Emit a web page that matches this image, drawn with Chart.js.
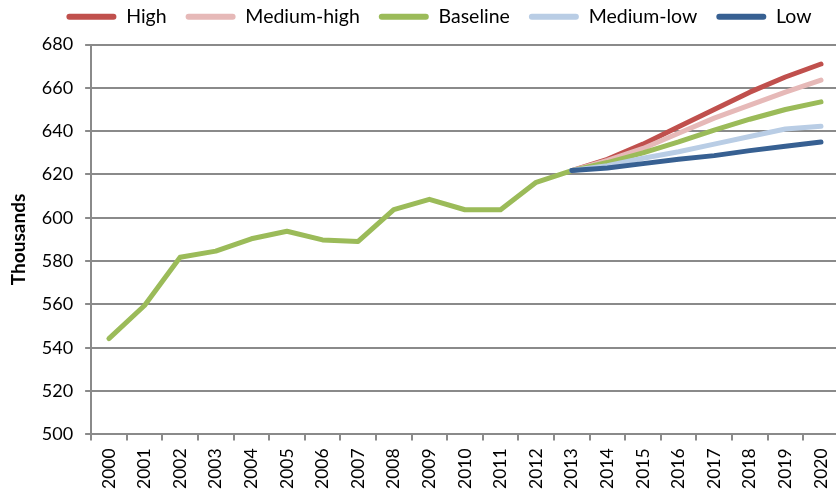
<!DOCTYPE html>
<html>
<head>
<meta charset="utf-8">
<script src="https://cdn.jsdelivr.net/npm/chart.js@4"></script>
<style>
  html, body { margin: 0; padding: 0; background: #fff; overflow: hidden; }
  #wrap { position: relative; width: 850px; height: 491px; }
</style>
</head>
<body>
<div id="wrap"><canvas id="myChart"></canvas></div>
<script>
// Years on the x axis
const years = ['2000', '2001', '2002', '2003', '2004', '2005', '2006', '2007', '2008', '2009', '2010',
  '2011', '2012', '2013', '2014', '2015', '2016', '2017', '2018', '2019', '2020'];

// Baseline: history up to 2013, then projection
const baseline = [544.2, 559.5, 581.8, 584.6, 590.3, 593.8, 589.8, 589.1, 603.8, 608.5, 603.7,
  603.7, 616.4, 621.8, 625.5, 630, 635, 640.5, 645.5, 650, 653.5];

// Other scenarios start in 2013
const gap = [null, null, null, null, null, null, null, null, null, null, null, null, null];
const high = gap.concat([621.8, 627, 634, 642, 650, 658, 665, 671]);
const mediumHigh = gap.concat([621.8, 626.5, 632, 639, 646, 652, 658, 663.6]);
const mediumLow = gap.concat([621.8, 624, 627.5, 630.5, 634, 637.5, 641, 642.3]);
const low = gap.concat([621.8, 623, 625, 627, 628.7, 631, 633, 635]);

const gridColor = '#8a8a8a';
const fontFamily = 'Lato';

function serie(label, data, color, order) {
  return {
    label: label,
    data: data,
    borderColor: color,
    backgroundColor: color,
    borderWidth: 5,
    borderCapStyle: 'round',
    borderJoinStyle: 'round',
    pointRadius: 0,
    tension: 0,
    order: order
  };
}

// move the legend row right and up a little, leaving the plot area where it is
const legendShift = {
  id: 'legendShift',
  afterUpdate(chart) {
    const lg = chart.legend;
    lg.left += 14;
    lg.right += 14;
    lg.top -= 8;
    lg.bottom -= 8;
  }
};

let ctx = document.getElementById('myChart');

let myChart = new Chart(ctx, {
  type: 'line',
  data: {
    labels: years,
    datasets: [
      serie('High', high, '#c0504d', 5),
      serie('Medium-high', mediumHigh, '#e6b9b8', 4),
      serie('Baseline', baseline, '#9bbb59', 3),
      serie('Medium-low', mediumLow, '#b9cde5', 2),
      serie('Low', low, '#376092', 1)
    ]
  },
  plugins: [legendShift],
  options: {
    responsive: true,
    maintainAspectRatio: false,
    animation: false,
    layout: { padding: { top: -4, left: 0, right: 0, bottom: -6 } },
    plugins: {
      tooltip: { enabled: false },
      legend: {
        position: 'top',
        reverse: true,
        labels: {
          color: '#000',
          font: { family: fontFamily, size: 19.5 },
          boxWidth: 50,
          boxHeight: 6,
          padding: 19,
          useBorderRadius: true,
          borderRadius: 3,
          generateLabels(chart) {
            const items = Chart.defaults.plugins.legend.labels.generateLabels(chart);
            items.forEach(it => { it.lineWidth = 0; });
            return items;
          }
        }
      }
    },
    scales: {
      x: {
        offset: true,
        grid: {
          display: true,
          offset: true,
          drawOnChartArea: false,
          drawTicks: true,
          tickLength: 6,
          color: gridColor,
          lineWidth: 2
        },
        border: { color: gridColor, width: 2 },
        ticks: {
          color: '#000',
          font: { family: fontFamily, size: 17.5 },
          minRotation: 90,
          maxRotation: 90,
          autoSkip: false,
          padding: 8
        }
      },
      y: {
        min: 500,
        max: 680,
        grid: {
          color: gridColor,
          lineWidth: 2,
          tickLength: 6
        },
        border: { color: gridColor, width: 2 },
        ticks: {
          stepSize: 20,
          color: '#000',
          font: { family: fontFamily, size: 18 },
          padding: 12
        },
        title: {
          display: true,
          text: 'Thousands',
          color: '#000',
          font: { family: fontFamily, size: 19, weight: 'bold' },
          padding: { top: 7, bottom: 0 }
        }
      }
    }
  }
});
</script>
</body>
</html>
